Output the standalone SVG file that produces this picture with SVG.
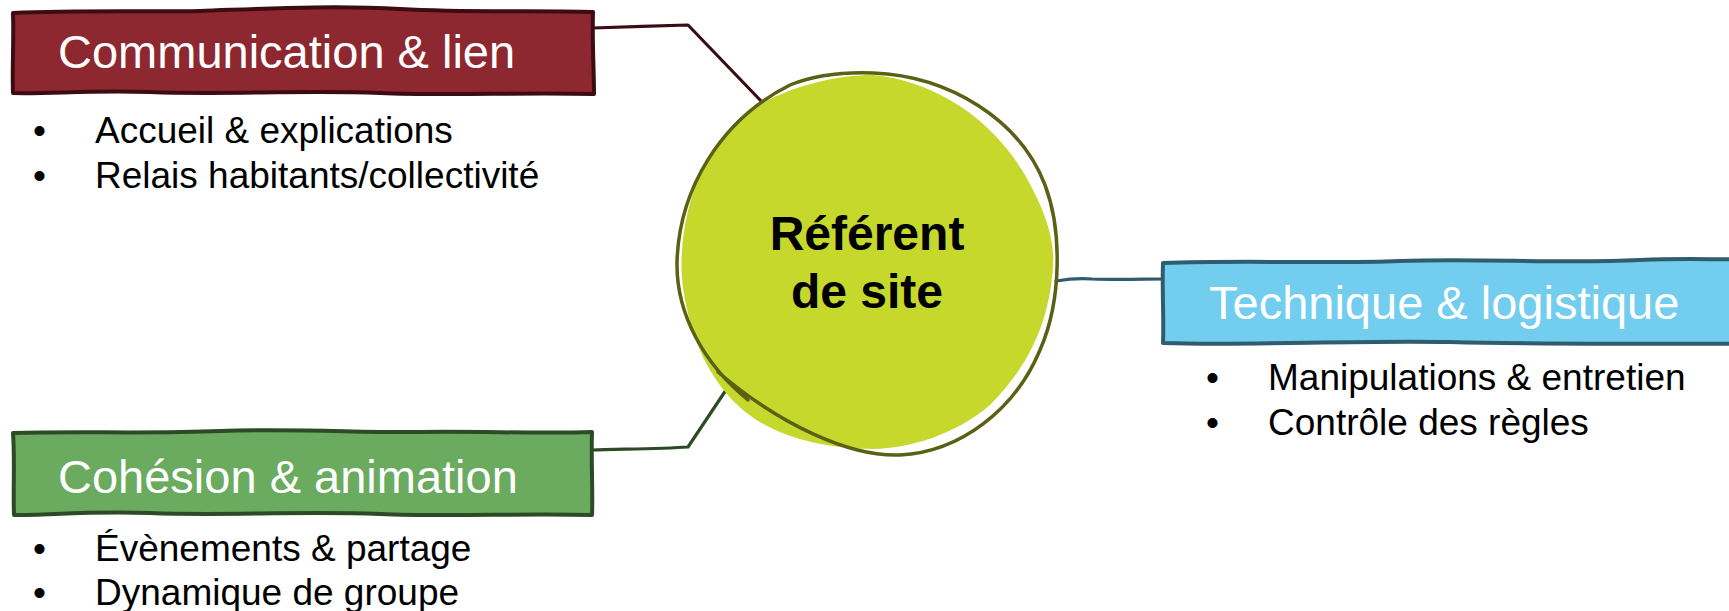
<svg xmlns="http://www.w3.org/2000/svg" width="1729" height="611" viewBox="0 0 1729 611">
<style>
.title{font-family:"Liberation Sans",Arial,sans-serif;font-size:47px;fill:#ffffff}
.item{font-family:"Liberation Sans",Arial,sans-serif;font-size:37px;fill:#000000}
.center{font-family:"Liberation Sans",Arial,sans-serif;font-size:48px;font-weight:bold;fill:#000000;text-anchor:middle}
.box{stroke-width:4;stroke-linejoin:round}
.conn{fill:none;stroke-width:3.2;stroke-linejoin:round;stroke-linecap:round}
</style>
<rect width="1729" height="611" fill="#ffffff"/>
<g id="connectors">
<path class="conn" stroke="#3d0c12" d="M593,28 C620,27 660,26 688,25 L762,102"/>
<path class="conn" stroke="#2f5c6e" d="M1056,281 C1068,279 1080,278 1092,279 C1120,280 1145,279 1165,279"/>
<path class="conn" stroke="#2d4a26" d="M592,450 C620,449 660,449 688,447 L730,384"/>
</g>
<g id="node-center">
<path fill="#c5d82b" d="M873,75 C930,80 990,115 1025,175 C1045,210 1055,240 1053,265 C1050,320 1030,365 990,405 C955,435 910,448 873,449 C830,449 785,439 755,419 C725,399 705,367 695,337 C683,302 680,272 682,252 C685,200 705,150 740,118 C775,90 830,75 873,75 Z"/>
<path fill="none" stroke="#5a6114" stroke-width="3.5" stroke-linecap="round" d="M748,400 C705,365 676,315 677,262 C679,190 720,120 790,85 C815,75 845,72 873,73 C950,76 1020,120 1045,185 C1062,230 1062,300 1040,350 C1015,410 960,452 900,455 C850,457 780,425 718,372"/>
<text class="center" x="867" y="250">Référent</text>
<text class="center" x="867" y="308">de site</text>
</g>
<g id="node-communication">
<path class="box" fill="#8e2830" stroke="#3d0c12" d="M13,13 C80,10 150,12 200,11 C260,9 330,5 400,9 C470,13 530,10 593,12 C592,40 594,70 594,94 C520,92 450,96 380,93 C300,90 220,95 150,92 C90,90 50,94 13,93 C12,70 14,40 13,13 Z"/>
<text class="title" x="58" y="68">Communication &amp; lien</text>
<text class="item" x="33" y="143">•</text>
<text class="item" x="95" y="143">Accueil &amp; explications</text>
<text class="item" x="33" y="188">•</text>
<text class="item" x="95" y="188">Relais habitants/collectivité</text>
</g>
<g id="node-technique">
<path class="box" fill="#72cdee" stroke="#2f5c6e" d="M1163,263 C1250,260 1330,264 1400,261 C1480,258 1560,264 1640,260 C1690,258 1720,260 1745,259 L1745,344 C1650,343 1550,345 1450,342 C1350,340 1250,346 1163,343 C1164,320 1162,290 1163,263 Z"/>
<text class="title" x="1209" y="319">Technique &amp; logistique</text>
<text class="item" x="1206" y="390">•</text>
<text class="item" x="1268" y="390">Manipulations &amp; entretien</text>
<text class="item" x="1206" y="435">•</text>
<text class="item" x="1268" y="435">Contrôle des règles</text>
</g>
<g id="node-cohesion">
<path class="box" fill="#6aab5f" stroke="#2d4a26" d="M13,433 C80,431 150,434 220,431 C300,428 360,433 420,432 C480,431 540,434 592,432 C591,460 593,490 592,515 C520,513 450,517 380,514 C300,511 220,516 150,513 C90,511 50,515 14,515 C13,490 15,460 13,433 Z"/>
<text class="title" x="58" y="493">Cohésion &amp; animation</text>
<text class="item" x="33" y="561">•</text>
<text class="item" x="95" y="561">Évènements &amp; partage</text>
<text class="item" x="33" y="605">•</text>
<text class="item" x="95" y="605">Dynamique de groupe</text>
</g>
</svg>
